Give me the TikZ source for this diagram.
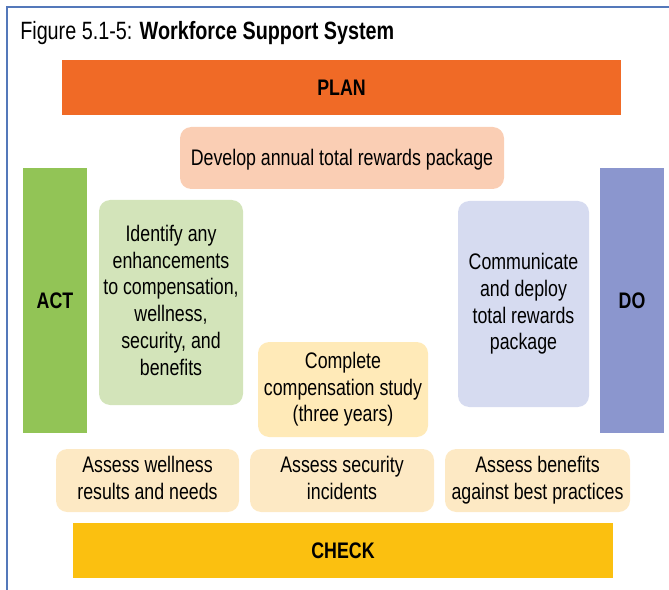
\documentclass[tikz,border=0pt]{standalone}
\usepackage{fontspec}
\setmainfont{Liberation Sans}[FakeStretch=0.79]
\usetikzlibrary{calc}

\begin{document}
\begin{tikzpicture}[x=0.025cm, y=-0.025cm]

\def \px {0.025cm}

\definecolor{c_frame}{RGB}{84,120,186}
\definecolor{c_plan}{RGB}{240,106,38}
\definecolor{c_act}{RGB}{146,196,86}
\definecolor{c_do}{RGB}{139,150,206}
\definecolor{c_check}{RGB}{251,192,16}
\definecolor{c_develop}{RGB}{250,206,180}
\definecolor{c_identify}{RGB}{211,228,186}
\definecolor{c_communicate}{RGB}{214,219,240}
\definecolor{c_complete}{RGB}{255,234,184}
\definecolor{c_assess}{RGB}{253,233,196}

\tikzset{
  bar/.style = {inner sep=0pt, font=\bfseries\fontsize{16}{19}\selectfont},
  stepbox/.style = {rounded corners=8pt, inner sep=0pt, align=center,
                    font=\fontsize{16}{19}\selectfont,
                    execute at begin node={\rule[-3.4pt]{0pt}{18pt}},
                    execute at end node={\rule[-3.4pt]{0pt}{12pt}}},
}

\useasboundingbox (0,0) rectangle (669,590);

% Frame
\draw[c_frame, line width=1.7pt] (7,590) -- (7,7) -- (669,7);

% Title
\node (title) at (20,33) [anchor=west, inner sep=0pt, font=\fontsize{17.8}{20}\selectfont]
  {Figure 5.1-5: \textbf{Workforce Support System}};

% PDCA bars
\node (plan) at (341.5,87.5) [bar, fill=c_plan, minimum width=559*\px, minimum height=55*\px] {PLAN};
\node (act) at (55,300.5) [bar, fill=c_act, minimum width=64*\px, minimum height=265*\px] {ACT};
\node (do) at (632,300.5) [bar, fill=c_do, minimum width=64*\px, minimum height=265*\px] {DO};
\node (check) at (343,550.5) [bar, fill=c_check, minimum width=540*\px, minimum height=55*\px] {CHECK};

% Plan step
\node (develop) at (342,158) [stepbox, fill=c_develop, minimum width=324*\px, minimum height=62*\px]
  {Develop annual total rewards package};

% Act step
\node (identify) at (171,302.5) [stepbox, fill=c_identify, minimum width=144*\px, minimum height=205*\px]
  {Identify any\\enhancements\\to compensation,\\wellness,\\security, and\\benefits};

% Do step
\node (communicate) at (523.5,304) [stepbox, fill=c_communicate, minimum width=131*\px, minimum height=206*\px]
  {Communicate\\and deploy\\total rewards\\package};

% Check steps
\node (complete) at (343,389.5) [stepbox, fill=c_complete, minimum width=170*\px, minimum height=95*\px]
  {Complete\\compensation study\\(three years)};
\node (wellness) at (147.5,480.5) [stepbox, fill=c_assess, minimum width=183*\px, minimum height=63*\px]
  {Assess wellness\\results and needs};
\node (security) at (342,480.5) [stepbox, fill=c_assess, minimum width=184*\px, minimum height=63*\px]
  {Assess security\\incidents};
\node (benefits) at (537.5,480.5) [stepbox, fill=c_assess, minimum width=185*\px, minimum height=63*\px]
  {Assess benefits\\against best practices};

\end{tikzpicture}
\end{document}
